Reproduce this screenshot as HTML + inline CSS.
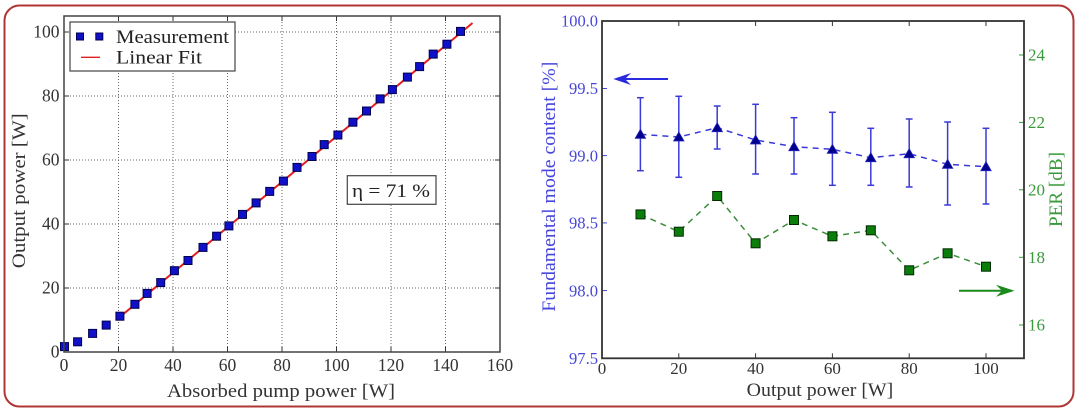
<!DOCTYPE html>
<html>
<head>
<meta charset="utf-8">
<style>
  html, body { margin: 0; padding: 0; background: #ffffff; }
  body { width: 1080px; height: 413px; overflow: hidden; }
  svg { display: block; }
  svg, text { font-family: "Liberation Serif", "DejaVu Serif", serif; }
</style>
</head>
<body>
<svg width="1080" height="413" viewBox="0 0 1080 413" xmlns="http://www.w3.org/2000/svg" font-family="Liberation Serif, DejaVu Serif, serif">
  <rect x="0" y="0" width="1080" height="413" fill="#ffffff"/>
  <!-- outer rounded border -->
  <rect x="4.5" y="5.5" width="1069" height="401" rx="15" ry="15" fill="none" stroke="#b03535" stroke-width="2"/>

  <!-- ================= LEFT CHART ================= -->
  <g stroke="#666" stroke-width="1" stroke-dasharray="1,2">
    <line x1="118.5" y1="16" x2="118.5" y2="352"/>
    <line x1="173" y1="16" x2="173" y2="352"/>
    <line x1="227.5" y1="16" x2="227.5" y2="352"/>
    <line x1="282" y1="16" x2="282" y2="352"/>
    <line x1="336.5" y1="16" x2="336.5" y2="352"/>
    <line x1="391" y1="16" x2="391" y2="352"/>
    <line x1="445.5" y1="16" x2="445.5" y2="352"/>
    <line x1="64" y1="288" x2="500" y2="288"/>
    <line x1="64" y1="224" x2="500" y2="224"/>
    <line x1="64" y1="160" x2="500" y2="160"/>
    <line x1="64" y1="96" x2="500" y2="96"/>
    <line x1="64" y1="32" x2="500" y2="32"/>
  </g>
  <g stroke="#333" stroke-width="1">
    <line x1="118.5" y1="352" x2="118.5" y2="347"/><line x1="118.5" y1="16" x2="118.5" y2="21"/>
    <line x1="173" y1="352" x2="173" y2="347"/><line x1="173" y1="16" x2="173" y2="21"/>
    <line x1="227.5" y1="352" x2="227.5" y2="347"/><line x1="227.5" y1="16" x2="227.5" y2="21"/>
    <line x1="282" y1="352" x2="282" y2="347"/><line x1="282" y1="16" x2="282" y2="21"/>
    <line x1="336.5" y1="352" x2="336.5" y2="347"/><line x1="336.5" y1="16" x2="336.5" y2="21"/>
    <line x1="391" y1="352" x2="391" y2="347"/><line x1="391" y1="16" x2="391" y2="21"/>
    <line x1="445.5" y1="352" x2="445.5" y2="347"/><line x1="445.5" y1="16" x2="445.5" y2="21"/>
    <line x1="64" y1="288" x2="69" y2="288"/><line x1="500" y1="288" x2="495" y2="288"/>
    <line x1="64" y1="224" x2="69" y2="224"/><line x1="500" y1="224" x2="495" y2="224"/>
    <line x1="64" y1="160" x2="69" y2="160"/><line x1="500" y1="160" x2="495" y2="160"/>
    <line x1="64" y1="96" x2="69" y2="96"/><line x1="500" y1="96" x2="495" y2="96"/>
    <line x1="64" y1="32" x2="69" y2="32"/><line x1="500" y1="32" x2="495" y2="32"/>
  </g>

  <line x1="117" y1="319.4" x2="472.5" y2="23" stroke="#e51e1e" stroke-width="2"/>

  <g fill="#1010c8" stroke="#000050" stroke-width="1">
    <rect x="60.5" y="342.6" width="8" height="8"/>
    <rect x="73.6" y="337.8" width="8" height="8"/>
    <rect x="88.6" y="329.4" width="8" height="8"/>
    <rect x="102.2" y="321.1" width="8" height="8"/>
    <rect x="115.9" y="312.2" width="8" height="8"/>
    <rect x="130.9" y="300.3" width="8" height="8"/>
    <rect x="143.1" y="289.4" width="8" height="8"/>
    <rect x="156.7" y="278.6" width="8" height="8"/>
    <rect x="170.4" y="266.7" width="8" height="8"/>
    <rect x="184.0" y="256.5" width="8" height="8"/>
    <rect x="199.0" y="243.4" width="8" height="8"/>
    <rect x="212.6" y="232.2" width="8" height="8"/>
    <rect x="224.9" y="221.9" width="8" height="8"/>
    <rect x="238.5" y="210.4" width="8" height="8"/>
    <rect x="252.1" y="198.9" width="8" height="8"/>
    <rect x="265.7" y="187.4" width="8" height="8"/>
    <rect x="279.4" y="177.1" width="8" height="8"/>
    <rect x="293.0" y="163.4" width="8" height="8"/>
    <rect x="308.0" y="152.5" width="8" height="8"/>
    <rect x="320.2" y="140.6" width="8" height="8"/>
    <rect x="333.9" y="131.0" width="8" height="8"/>
    <rect x="348.9" y="118.2" width="8" height="8"/>
    <rect x="362.5" y="107.0" width="8" height="8"/>
    <rect x="376.1" y="94.9" width="8" height="8"/>
    <rect x="388.4" y="85.6" width="8" height="8"/>
    <rect x="403.4" y="73.1" width="8" height="8"/>
    <rect x="415.6" y="62.6" width="8" height="8"/>
    <rect x="429.2" y="50.1" width="8" height="8"/>
    <rect x="442.9" y="40.2" width="8" height="8"/>
    <rect x="456.5" y="27.4" width="8" height="8"/>
  </g>

  <rect x="64" y="16" width="436" height="336" fill="none" stroke="#444" stroke-width="1.5"/>

  <rect x="70" y="22" width="165" height="49" fill="#ffffff" stroke="#444" stroke-width="1.2"/>
  <g fill="#1010c8" stroke="#000050" stroke-width="1">
    <rect x="76.5" y="33" width="7" height="7"/>
    <rect x="95.8" y="33" width="7" height="7"/>
  </g>
  <line x1="81" y1="57.3" x2="100" y2="57.3" stroke="#e51e1e" stroke-width="1.4"/>
  <text x="116" y="43" font-size="19" fill="#222" textLength="113" lengthAdjust="spacingAndGlyphs">Measurement</text>
  <text x="116" y="63.5" font-size="19" fill="#222" textLength="86" lengthAdjust="spacingAndGlyphs">Linear Fit</text>

  <rect x="347.3" y="175.7" width="88.7" height="28.6" fill="#ffffff" stroke="#444" stroke-width="1.2"/>
  <text x="352" y="197" font-size="19" fill="#222" textLength="78" lengthAdjust="spacingAndGlyphs">η = 71 %</text>

  <g font-size="17.5" fill="#333" text-anchor="middle">
    <text x="64" y="371">0</text>
    <text x="118.5" y="371">20</text>
    <text x="173" y="371">40</text>
    <text x="227.5" y="371">60</text>
    <text x="282" y="371">80</text>
    <text x="336.5" y="371">100</text>
    <text x="391" y="371">120</text>
    <text x="445.5" y="371">140</text>
    <text x="500" y="371">160</text>
  </g>
  <g font-size="17.5" fill="#333" text-anchor="end">
    <text x="59.5" y="357.7">0</text>
    <text x="59.5" y="293.7">20</text>
    <text x="59.5" y="229.7">40</text>
    <text x="59.5" y="165.7">60</text>
    <text x="59.5" y="101.7">80</text>
    <text x="59.5" y="37.7">100</text>
  </g>
  <text x="167" y="397" font-size="19" fill="#333" textLength="228" lengthAdjust="spacingAndGlyphs">Absorbed pump power [W]</text>
  <text transform="translate(25,268.3) rotate(-90)" x="0" y="0" font-size="19" fill="#333" textLength="155" lengthAdjust="spacingAndGlyphs">Output power [W]</text>

  <!-- ================= RIGHT CHART ================= -->
  <g stroke="#333" stroke-width="1">
    <line x1="678.8" y1="358.3" x2="678.8" y2="353.3"/><line x1="678.8" y1="21" x2="678.8" y2="26"/>
    <line x1="755.6" y1="358.3" x2="755.6" y2="353.3"/><line x1="755.6" y1="21" x2="755.6" y2="26"/>
    <line x1="832.4" y1="358.3" x2="832.4" y2="353.3"/><line x1="832.4" y1="21" x2="832.4" y2="26"/>
    <line x1="909.2" y1="358.3" x2="909.2" y2="353.3"/><line x1="909.2" y1="21" x2="909.2" y2="26"/>
    <line x1="986" y1="358.3" x2="986" y2="353.3"/><line x1="986" y1="21" x2="986" y2="26"/>
  </g>
  <g stroke="#4646d8" stroke-width="1">
    <line x1="602" y1="88.5" x2="607" y2="88.5"/>
    <line x1="602" y1="155.6" x2="607" y2="155.6"/>
    <line x1="602" y1="222.9" x2="607" y2="222.9"/>
    <line x1="602" y1="290.6" x2="607" y2="290.6"/>
  </g>
  <g stroke="#3a9a3a" stroke-width="1">
    <line x1="1024" y1="55" x2="1019" y2="55"/>
    <line x1="1024" y1="122.4" x2="1019" y2="122.4"/>
    <line x1="1024" y1="189.8" x2="1019" y2="189.8"/>
    <line x1="1024" y1="257.3" x2="1019" y2="257.3"/>
    <line x1="1024" y1="325" x2="1019" y2="325"/>
  </g>

  <polyline points="640.4,214.3 678.8,231.7 717.2,196 755.6,243.3 794,220 832.4,236.3 870.8,230.3 909.2,270.3 947.6,253.3 986,266.7"
            fill="none" stroke="#3c8c3c" stroke-width="1.5" stroke-dasharray="6,5"/>
  <g fill="#0b7d0b" stroke="#002a00" stroke-width="1">
    <rect x="636" y="209.9" width="9" height="9"/>
    <rect x="674.3" y="227.2" width="9" height="9"/>
    <rect x="712.7" y="191.5" width="9" height="9"/>
    <rect x="751.1" y="238.8" width="9" height="9"/>
    <rect x="789.5" y="215.5" width="9" height="9"/>
    <rect x="827.9" y="231.8" width="9" height="9"/>
    <rect x="866.3" y="225.8" width="9" height="9"/>
    <rect x="904.7" y="265.8" width="9" height="9"/>
    <rect x="943.1" y="248.8" width="9" height="9"/>
    <rect x="981.5" y="262.2" width="9" height="9"/>
  </g>

  <g stroke="#3a3ad8" stroke-width="1.5">
    <line x1="640.4" y1="97.7" x2="640.4" y2="170.7"/><line x1="637" y1="97.7" x2="643.8" y2="97.7"/><line x1="637" y1="170.7" x2="643.8" y2="170.7"/>
    <line x1="678.8" y1="96.3" x2="678.8" y2="177.3"/><line x1="675.4" y1="96.3" x2="682.2" y2="96.3"/><line x1="675.4" y1="177.3" x2="682.2" y2="177.3"/>
    <line x1="717.2" y1="106" x2="717.2" y2="149"/><line x1="713.8" y1="106" x2="720.6" y2="106"/><line x1="713.8" y1="149" x2="720.6" y2="149"/>
    <line x1="755.6" y1="104.3" x2="755.6" y2="174"/><line x1="752.2" y1="104.3" x2="759" y2="104.3"/><line x1="752.2" y1="174" x2="759" y2="174"/>
    <line x1="794" y1="117.7" x2="794" y2="174"/><line x1="790.6" y1="117.7" x2="797.4" y2="117.7"/><line x1="790.6" y1="174" x2="797.4" y2="174"/>
    <line x1="832.4" y1="112.3" x2="832.4" y2="185.3"/><line x1="829" y1="112.3" x2="835.8" y2="112.3"/><line x1="829" y1="185.3" x2="835.8" y2="185.3"/>
    <line x1="870.8" y1="128.3" x2="870.8" y2="185.3"/><line x1="867.4" y1="128.3" x2="874.2" y2="128.3"/><line x1="867.4" y1="185.3" x2="874.2" y2="185.3"/>
    <line x1="909.2" y1="119" x2="909.2" y2="187"/><line x1="905.8" y1="119" x2="912.6" y2="119"/><line x1="905.8" y1="187" x2="912.6" y2="187"/>
    <line x1="947.6" y1="122" x2="947.6" y2="205"/><line x1="944.2" y1="122" x2="951" y2="122"/><line x1="944.2" y1="205" x2="951" y2="205"/>
    <line x1="986" y1="128.3" x2="986" y2="204"/><line x1="982.6" y1="128.3" x2="989.4" y2="128.3"/><line x1="982.6" y1="204" x2="989.4" y2="204"/>
  </g>
  <polyline points="640.4,134.3 678.8,137 717.2,127.7 755.6,140 794,146.7 832.4,149.3 870.8,157.7 909.2,153.7 947.6,164.3 986,166.7"
            fill="none" stroke="#3a3ad8" stroke-width="1.5" stroke-dasharray="6,5"/>
  <g fill="#00008a" stroke="#2020c0" stroke-width="0.8">
    <polygon points="640.4,129.3 645.6,138.3 635.2,138.3"/>
    <polygon points="678.8,132 684,141 673.6,141"/>
    <polygon points="717.2,122.7 722.4,131.7 712,131.7"/>
    <polygon points="755.6,135 760.8,144 750.4,144"/>
    <polygon points="794,141.7 799.2,150.7 788.8,150.7"/>
    <polygon points="832.4,144.3 837.6,153.3 827.2,153.3"/>
    <polygon points="870.8,152.7 876,161.7 865.6,161.7"/>
    <polygon points="909.2,148.7 914.4,157.7 904,157.7"/>
    <polygon points="947.6,159.3 952.8,168.3 942.4,168.3"/>
    <polygon points="986,161.7 991.2,170.7 980.8,170.7"/>
  </g>

  <line x1="623" y1="79" x2="668" y2="79" stroke="#2a2ae0" stroke-width="2"/>
  <path d="M613.3,79 L631,73 L625,79 L631,85 Z" fill="#2a2ae0"/>
  <line x1="959" y1="290.7" x2="1003" y2="290.7" stroke="#1a8a1a" stroke-width="2"/>
  <path d="M1014.5,290.7 L996,284.7 L1002,290.7 L996,296.7 Z" fill="#1a8a1a"/>

  <rect x="602" y="21" width="422" height="337.3" fill="none" stroke="#333" stroke-width="1.8"/>

  <g font-size="17" fill="#333" text-anchor="middle">
    <text x="602" y="374">0</text>
    <text x="678.8" y="374">20</text>
    <text x="755.6" y="374">40</text>
    <text x="832.4" y="374">60</text>
    <text x="909.2" y="374">80</text>
    <text x="986" y="374">100</text>
  </g>
  <g font-size="16.5" fill="#4646dc" text-anchor="end">
    <text x="598" y="26.7" textLength="37" lengthAdjust="spacingAndGlyphs">100.0</text>
    <text x="598" y="94.2" textLength="29" lengthAdjust="spacingAndGlyphs">99.5</text>
    <text x="598" y="161.3" textLength="29" lengthAdjust="spacingAndGlyphs">99.0</text>
    <text x="598" y="228.6" textLength="29" lengthAdjust="spacingAndGlyphs">98.5</text>
    <text x="598" y="296.3" textLength="29" lengthAdjust="spacingAndGlyphs">98.0</text>
    <text x="598" y="364" textLength="29" lengthAdjust="spacingAndGlyphs">97.5</text>
  </g>
  <g font-size="17" fill="#3a9a3a" text-anchor="start">
    <text x="1028" y="60.7">24</text>
    <text x="1028" y="128.1">22</text>
    <text x="1028" y="195.5">20</text>
    <text x="1028" y="263">18</text>
    <text x="1028" y="330.7">16</text>
  </g>
  <text x="746.7" y="396" font-size="19" fill="#333" textLength="146.6" lengthAdjust="spacingAndGlyphs">Output power [W]</text>
  <text transform="translate(555,311.7) rotate(-90)" x="0" y="0" font-size="19" fill="#4646dc" textLength="250" lengthAdjust="spacingAndGlyphs">Fundamental mode content [%]</text>
  <text transform="translate(1062,227) rotate(-90)" x="0" y="0" font-size="19" fill="#3a9a3a" textLength="75" lengthAdjust="spacingAndGlyphs">PER [dB]</text>
</svg>
</body>
</html>
